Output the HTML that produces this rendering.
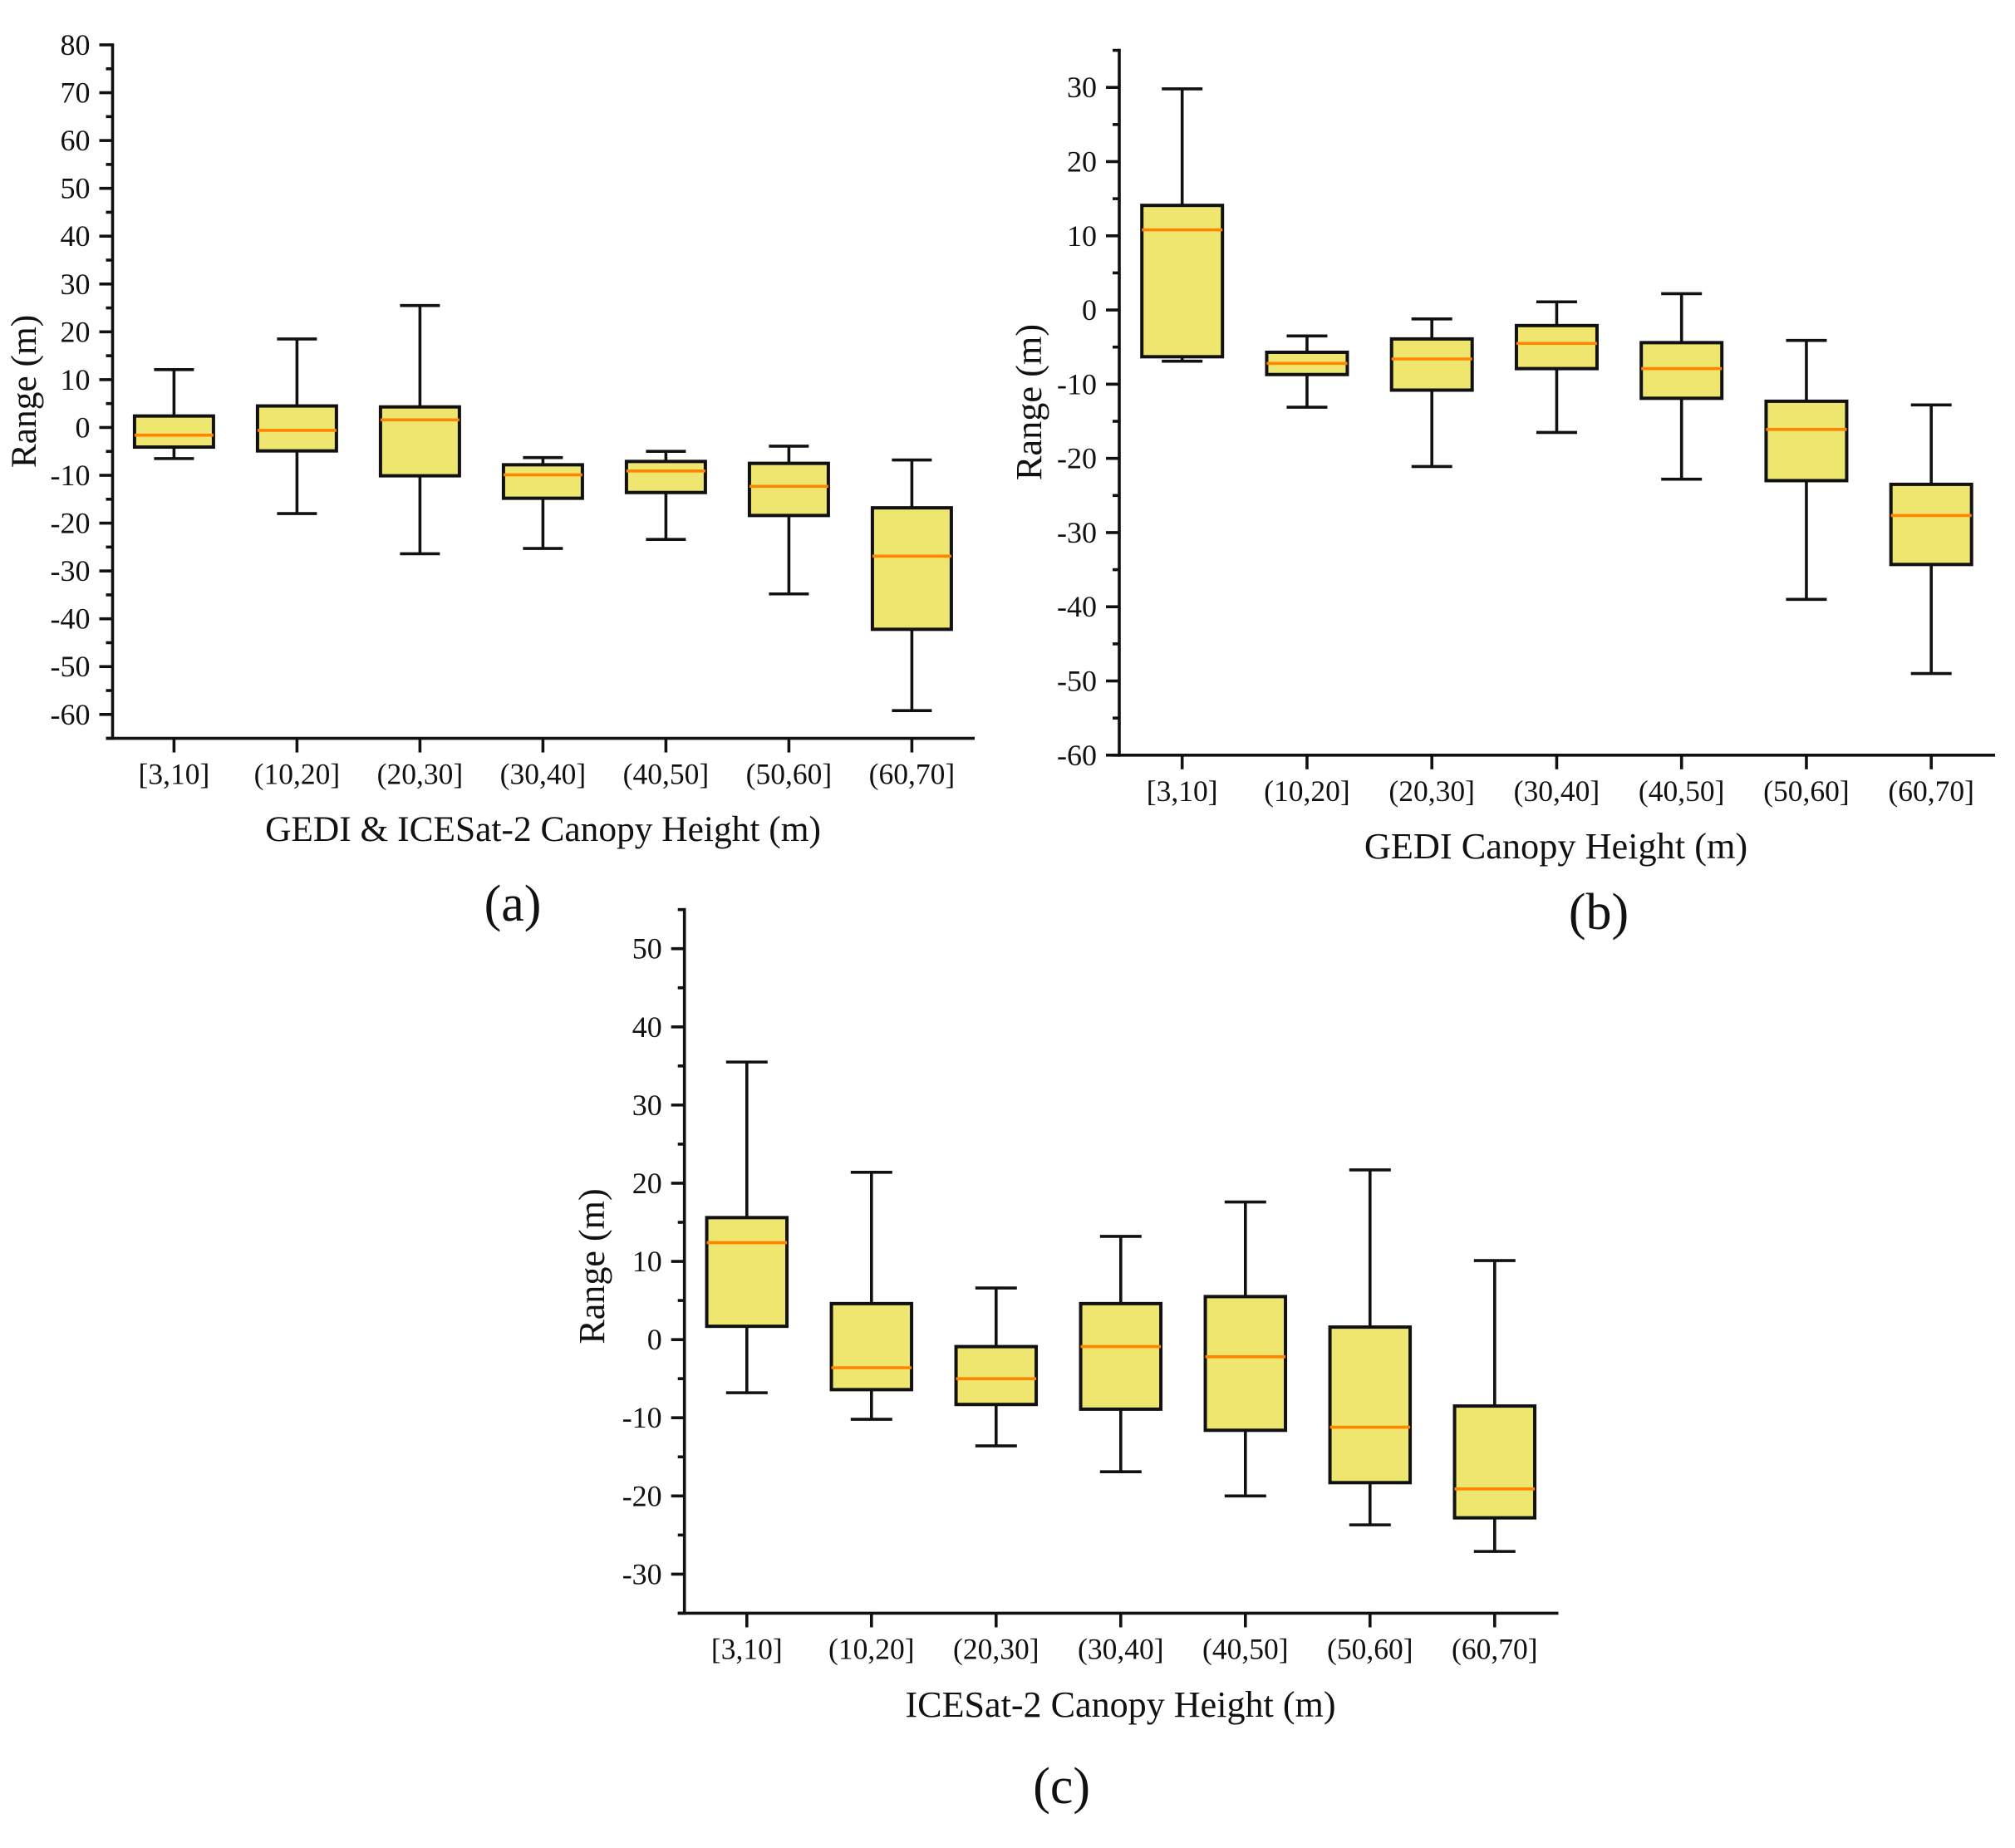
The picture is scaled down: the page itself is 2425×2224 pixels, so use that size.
<!DOCTYPE html>
<html lang="en">
<head>
<meta charset="utf-8">
<title>Canopy height range box plots</title>
<style>
html,body{margin:0;padding:0;background:#fff;}
svg{display:block;}
text{font-family:"Liberation Serif",serif;fill:#111;}
</style>
</head>
<body>
<svg id="figure" xmlns="http://www.w3.org/2000/svg" width="2425" height="2224" viewBox="0 0 2425 2224"></svg>
<script>
// Shared category labels
const categories = ['[3,10]', '(10,20]', '(20,30]', '(30,40]', '(40,50]', '(50,60]', '(60,70]'];

// Panel (a)
const yTicksA = [80, 70, 60, 50, 40, 30, 20, 10, 0, -10, -20, -30, -40, -50, -60];
const whiskerHighA = [12.1, 18.5, 25.5, -6.3, -5.0, -3.9, -6.8];
const q3A = [2.4, 4.5, 4.3, -7.8, -7.1, -7.5, -16.8];
const medianA = [-1.6, -0.6, 1.6, -9.9, -9.1, -12.3, -26.9];
const q1A = [-4.1, -4.9, -10.1, -14.8, -13.6, -18.4, -42.2];
const whiskerLowA = [-6.5, -18.0, -26.4, -25.3, -23.4, -34.8, -59.2];

// Panel (b)
const yTicksB = [30, 20, 10, 0, -10, -20, -30, -40, -50, -60];
const whiskerHighB = [29.8, -3.5, -1.2, 1.1, 2.2, -4.1, -12.8];
const q3B = [14.1, -5.7, -3.9, -2.1, -4.4, -12.3, -23.5];
const medianB = [10.8, -7.2, -6.6, -4.5, -7.9, -16.1, -27.7];
const q1B = [-6.3, -8.7, -10.8, -7.9, -11.9, -23.0, -34.3];
const whiskerLowB = [-6.9, -13.1, -21.1, -16.5, -22.8, -39.0, -49.0];

// Panel (c)
const yTicksC = [50, 40, 30, 20, 10, 0, -10, -20, -30];
const whiskerHighC = [35.5, 21.4, 6.6, 13.2, 17.6, 21.7, 10.1];
const q3C = [15.6, 4.6, -0.9, 4.6, 5.5, 1.6, -8.5];
const medianC = [12.4, -3.6, -5.0, -0.9, -2.2, -11.2, -19.1];
const q1C = [1.7, -6.4, -8.3, -8.9, -11.6, -18.3, -22.8];
const whiskerLowC = [-6.8, -10.2, -13.6, -16.9, -20.0, -23.7, -27.1];

const SVGNS = 'http://www.w3.org/2000/svg';
const root = document.getElementById('figure');
const STROKE = 3.6;

function line(parent, x1, y1, x2, y2, color, width) {
  const el = document.createElementNS(SVGNS, 'line');
  el.setAttribute('x1', x1);
  el.setAttribute('y1', y1);
  el.setAttribute('x2', x2);
  el.setAttribute('y2', y2);
  el.setAttribute('stroke', color);
  el.setAttribute('stroke-width', width);
  parent.appendChild(el);
  return el;
}

function label(parent, str, x, y, size, anchor) {
  const el = document.createElementNS(SVGNS, 'text');
  el.setAttribute('x', x);
  el.setAttribute('y', y);
  el.setAttribute('font-size', size);
  el.setAttribute('text-anchor', anchor);
  el.textContent = str;
  parent.appendChild(el);
  return el;
}

function group(parent) {
  const el = document.createElementNS(SVGNS, 'g');
  parent.appendChild(el);
  return el;
}

function drawPanel(p) {
  // Axis functions: map data value / category index to pixels
  const pxPerUnit = (p.yRefLowPx - p.yRefHighPx) / (p.yRefHigh - p.yRefLow);
  const yScale = function (v) { return p.yRefHighPx + (p.yRefHigh - v) * pxPerUnit; };
  const xScale = function (i) { return p.xFirst + i * p.xStep; };
  const axisBottom = yScale(p.yMin);
  const axisTop = yScale(p.yMax);

  const panel = group(root);
  
  

  // Y axis
  const yAxisLine = line(panel, p.axisX, axisTop - 1.8, p.axisX, axisBottom + 1.8, '#111', STROKE);
  
  

  p.yTicks.forEach(function (t) {
    const tick = line(panel, p.axisX - 16, yScale(t), p.axisX, yScale(t), '#111', STROKE);
    
    
    const tickLabel = label(panel, String(t), p.axisX - 27, yScale(t) + 12, 36, 'end');
    
    
  });

  // Minor ticks halfway between majors, inside the axis range
  for (let v = p.yMax; v >= p.yMin; v -= 5) {
    if (p.yTicks.indexOf(v) === -1) {
      const minor = line(panel, p.axisX - 8, yScale(v), p.axisX, yScale(v), '#111', STROKE);
      
      
    }
  }

  // X axis
  const xAxisLine = line(panel, p.axisX - 8, axisBottom, p.axisRight, axisBottom, '#111', STROKE);
  
  

  categories.forEach(function (c, i) {
    const tick = line(panel, xScale(i), axisBottom, xScale(i), axisBottom + 17, '#111', STROKE);
    
    
    const tickLabel = label(panel, c, xScale(i), axisBottom + p.tickBaselineGap, 35.5, 'middle');
    
    
  });

  // Boxes
  categories.forEach(function (c, i) {
    const cx = xScale(i);
    const box = group(panel);
    
    

    const stemUp = line(box, cx, yScale(p.high[i]), cx, yScale(p.q3[i]), '#111', STROKE);
    
    
    const stemDown = line(box, cx, yScale(p.q1[i]), cx, yScale(p.low[i]), '#111', STROKE);
    
    
    const capUp = line(box, cx - p.capW / 2, yScale(p.high[i]), cx + p.capW / 2, yScale(p.high[i]), '#111', STROKE);
    
    
    const capDown = line(box, cx - p.capW / 2, yScale(p.low[i]), cx + p.capW / 2, yScale(p.low[i]), '#111', STROKE);
    
    

    const rect = document.createElementNS(SVGNS, 'rect');
    rect.setAttribute('x', cx - p.boxW / 2);
    rect.setAttribute('y', yScale(p.q3[i]));
    rect.setAttribute('width', p.boxW);
    rect.setAttribute('height', yScale(p.q1[i]) - yScale(p.q3[i]));
    rect.setAttribute('fill', '#eee66e');
    rect.setAttribute('stroke', '#111');
    rect.setAttribute('stroke-width', 4);
    
    
    box.appendChild(rect);

    const med = line(box, cx - p.boxW / 2, yScale(p.median[i]), cx + p.boxW / 2, yScale(p.median[i]), '#ff8400', 3.6);
    
    
  });

  // Titles
  const xTitle = label(panel, p.xTitle, p.xTitleX, p.xTitleY, p.titleSize, 'middle');
  
  

  const yTitle = label(panel, 'Range (m)', 0, 0, p.titleSize, 'middle');
  yTitle.setAttribute('transform', 'translate(' + p.yTitleX + ',' + p.yTitleY + ') rotate(-90)');
  
  

  const tag = label(panel, p.tag, p.tagX, p.tagY, 62, 'middle');
  
  
}

drawPanel({
  id: 'a', yTicks: yTicksA, high: whiskerHighA, q3: q3A, median: medianA, q1: q1A, low: whiskerLowA,
  yMax: 80, yMin: -65, yRefHigh: 80, yRefLow: -60, yRefHighPx: 54, yRefLowPx: 859.8,
  axisX: 135.5, axisRight: 1173, xFirst: 209.4, xStep: 148, boxW: 95, capW: 48, tickBaselineGap: 55,
  titleSize: 43.4,
  xTitle: 'GEDI & ICESat-2 Canopy Height (m)', xTitleX: 653.5, xTitleY: 1012,
  yTitleX: 43, yTitleY: 471, tag: '(a)', tagX: 617, tagY: 1108
});

drawPanel({
  id: 'b', yTicks: yTicksB, high: whiskerHighB, q3: q3B, median: medianB, q1: q1B, low: whiskerLowB,
  yMax: 35, yMin: -60, yRefHigh: 30, yRefLow: -60, yRefHighPx: 105.2, yRefLowPx: 908.8,
  axisX: 1347, axisRight: 2401, xFirst: 1422.7, xStep: 150.25, boxW: 97, capW: 49, tickBaselineGap: 55,
  titleSize: 44.3,
  xTitle: 'GEDI Canopy Height (m)', xTitleX: 1872.5, xTitleY: 1033,
  yTitleX: 1253, yTitleY: 484, tag: '(b)', tagX: 1924, tagY: 1118
});

drawPanel({
  id: 'c', yTicks: yTicksC, high: whiskerHighC, q3: q3C, median: medianC, q1: q1C, low: whiskerLowC,
  yMax: 55, yMin: -35, yRefHigh: 50, yRefLow: -30, yRefHighPx: 1141.7, yRefLowPx: 1894.4,
  axisX: 823.7, axisRight: 1875.5, xFirst: 898.8, xStep: 150, boxW: 96.5, capW: 50, tickBaselineGap: 55,
  titleSize: 44.1,
  xTitle: 'ICESat-2 Canopy Height (m)', xTitleX: 1348.5, xTitleY: 2066,
  yTitleX: 727, yTitleY: 1524, tag: '(c)', tagX: 1277.6, tagY: 2170
});
</script>
</body>
</html>
